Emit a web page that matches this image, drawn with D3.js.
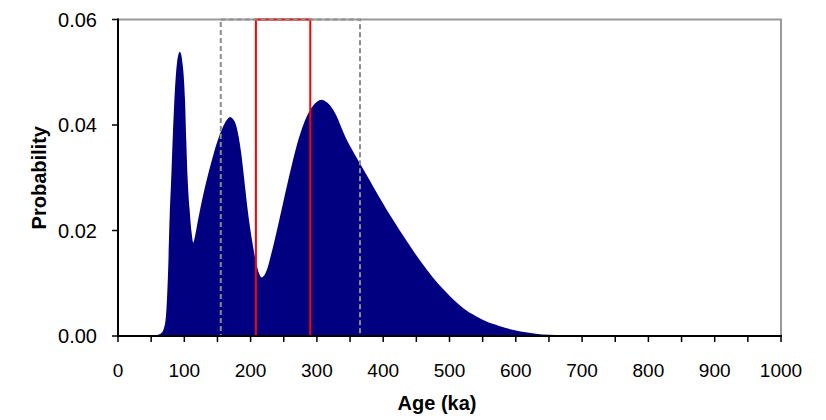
<!DOCTYPE html>
<html>
<head>
<meta charset="utf-8">
<script src="https://cdn.jsdelivr.net/npm/d3@7"></script>
<style>
  html, body { margin: 0; padding: 0; background: #fff; }
  svg { display: block; font-family: "Liberation Sans", Arial, sans-serif; }
</style>
</head>
<body>
<svg id="chart" width="826" height="420"></svg>
<script>
// Age (ka) of each sample of the probability curve
const ages = [
  50, 55, 60, 65, 70, 73, 76, 78, 80, 83, 86, 89, 91, 93, 95, 97, 99, 101, 103, 105,
  108, 111, 113.5, 116, 120, 125, 130, 135, 140, 145, 150, 155, 160, 165, 169, 173,
  178, 181, 186, 191, 195, 199, 203, 206.5, 210, 213, 217, 220, 225, 230, 235, 240,
  245, 250, 255, 260, 265, 270, 275, 280, 285, 290, 295, 300, 307, 315, 320, 325, 330,
  335, 340, 345, 350, 355, 360, 365, 375, 385, 395, 405, 415, 425, 435, 445, 455, 465,
  475, 485, 495, 505, 515, 525, 535, 545, 555, 565, 575, 585, 595, 605, 620, 640, 660,
  680, 700, 1000
];
// Probability at each age
const probability = [
  0, 0.00005, 0.0002, 0.0005, 0.0018, 0.005, 0.014, 0.023, 0.029, 0.039, 0.047, 0.0518,
  0.0533, 0.0539, 0.0535, 0.0520, 0.0495, 0.0450, 0.0370, 0.0300, 0.0240, 0.0196, 0.0177,
  0.0188, 0.0215, 0.0247, 0.0276, 0.0302, 0.0326, 0.0349, 0.0369, 0.0387, 0.0401, 0.0411,
  0.0415, 0.0412, 0.0400, 0.0384, 0.0345, 0.0290, 0.0245, 0.0207, 0.0175, 0.0150, 0.0130,
  0.0118, 0.0111, 0.0114, 0.0127, 0.0150, 0.0175, 0.0202, 0.0230, 0.0258, 0.0286, 0.0313,
  0.0339, 0.0363, 0.0384, 0.0402, 0.0417, 0.0429, 0.0438, 0.0444, 0.0448, 0.0443, 0.0437,
  0.0428, 0.0416, 0.0401, 0.0386, 0.0372, 0.0360, 0.0349, 0.0338, 0.0327, 0.0305, 0.0283,
  0.0261, 0.0240, 0.0220, 0.0200, 0.0181, 0.0162, 0.0144, 0.0127, 0.0111, 0.0096, 0.0083,
  0.0070, 0.0059, 0.0049, 0.0041, 0.0034, 0.0028, 0.0023, 0.0019, 0.0015, 0.0012, 0.0009,
  0.0006, 0.0003, 0.0002, 0.0001, 0, 0
];
// Age ranges marked on the chart
const outerRange = [155, 365];   // grey dashed box
const innerRange = [208, 290];   // red box
// Axis ticks
const xMajorTicks = [0, 100, 200, 300, 400, 500, 600, 700, 800, 900, 1000];
const xMinorTicks = [50, 150, 250, 350, 450, 550, 650, 750, 850, 950];
const yTicks = [0, 0.02, 0.04, 0.06];
const yTickLabels = ["0.00", "0.02", "0.04", "0.06"];

const svg = d3.select("#chart");
const plotLeft = 118, plotRight = 781, plotTop = 19.5, plotBottom = 336;

const x = d3.scaleLinear().domain([0, 1000]).range([plotLeft, plotRight]);
const y = d3.scaleLinear().domain([0, 0.06]).range([plotBottom, plotTop]);

const data = ages.map((a, i) => ({ age: a, p: probability[i] }));

// Probability density area
const area = d3.area()
  .x(d => x(d.age))
  .y0(y(0))
  .y1(d => y(d.p))
  .curve(d3.curveMonotoneX);

svg.append("path")
  .datum(data)
  .attr("d", area)
  .attr("fill", "#000080");

// Plot frame: grey top and right edges
svg.append("path")
  .attr("d", `M${plotLeft},${plotTop}H${plotRight}V${plotBottom}`)
  .attr("fill", "none")
  .attr("stroke", "#999")
  .attr("stroke-width", 2);

// Inner (red) range box
svg.append("rect")
  .attr("x", x(innerRange[0]))
  .attr("y", y(0.06))
  .attr("width", x(innerRange[1]) - x(innerRange[0]))
  .attr("height", y(0) - y(0.06))
  .attr("fill", "none")
  .attr("stroke", "#ff0000")
  .attr("stroke-width", 2);

// Outer (grey dashed) range box
svg.append("rect")
  .attr("x", x(outerRange[0]))
  .attr("y", y(0.06))
  .attr("width", x(outerRange[1]) - x(outerRange[0]))
  .attr("height", y(0) - y(0.06))
  .attr("fill", "none")
  .attr("stroke", "#8c8c8c")
  .attr("stroke-width", 2)
  .attr("stroke-dasharray", "5,3");

// X axis
const xAxis = svg.append("g").attr("transform", `translate(0,${plotBottom})`);
xAxis.append("line")
  .attr("x1", plotLeft - 1).attr("x2", plotRight + 1)
  .attr("stroke", "#000").attr("stroke-width", 2);
xAxis.selectAll("line.tick")
  .data(xMajorTicks.concat(xMinorTicks))
  .join("line")
  .attr("class", "tick")
  .attr("x1", d => x(d)).attr("x2", d => x(d))
  .attr("y1", 0).attr("y2", 6)
  .attr("stroke", "#000").attr("stroke-width", 1.5);
xAxis.selectAll("text")
  .data(xMajorTicks)
  .join("text")
  .attr("x", d => x(d))
  .attr("y", 41)
  .attr("text-anchor", "middle")
  .attr("font-size", 19)
  .attr("fill", "#000")
  .text(d => d);

// Y axis
const yAxis = svg.append("g").attr("transform", `translate(${plotLeft},0)`);
yAxis.append("line")
  .attr("y1", plotTop - 1).attr("y2", plotBottom + 1)
  .attr("stroke", "#000").attr("stroke-width", 2);
yAxis.selectAll("line.tick")
  .data(yTicks)
  .join("line")
  .attr("class", "tick")
  .attr("x1", -6).attr("x2", 0)
  .attr("y1", d => y(d)).attr("y2", d => y(d))
  .attr("stroke", "#000").attr("stroke-width", 1.5);
yAxis.selectAll("text")
  .data(yTicks)
  .join("text")
  .attr("x", -21)
  .attr("y", d => y(d) + 7)
  .attr("text-anchor", "end")
  .attr("font-size", 20)
  .attr("fill", "#000")
  .text((d, i) => yTickLabels[i]);

// Axis titles
svg.append("text")
  .attr("x", 437)
  .attr("y", 410)
  .attr("text-anchor", "middle")
  .attr("font-size", 20)
  .attr("font-weight", "bold")
  .text("Age (ka)");

svg.append("text")
  .attr("transform", `translate(46,${(plotTop + plotBottom) / 2}) rotate(-90)`)
  .attr("text-anchor", "middle")
  .attr("font-size", 20)
  .attr("font-weight", "bold")
  .text("Probability");
</script>
</body>
</html>
